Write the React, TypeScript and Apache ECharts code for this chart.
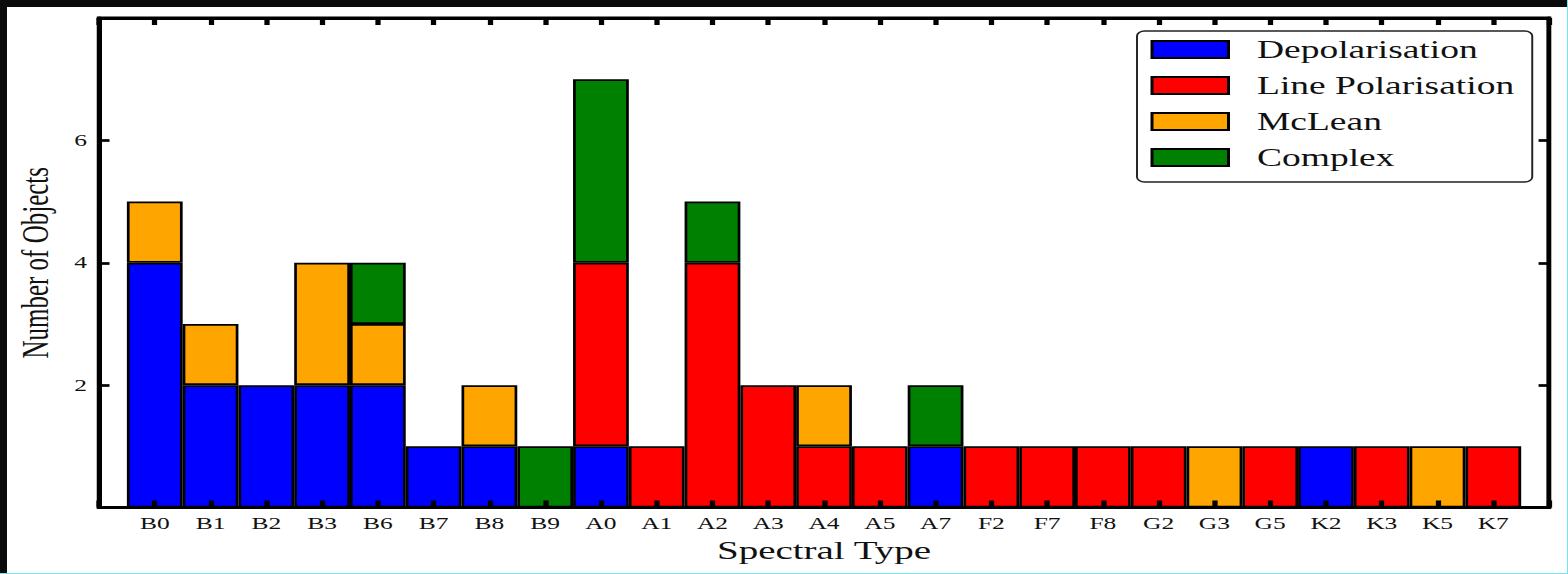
import React, { useEffect, useRef } from "react";
import * as echarts from "echarts";

const categories = ["B0","B1","B2","B3","B6","B7","B8","B9","A0","A1","A2","A3","A4","A5","A7","F2","F7","F8","G2","G3","G5","K2","K3","K5","K7"];
const depolarisation = [4,2,2,2,2,1,1,0,1,0,0,0,0,0,1,0,0,0,0,0,0,1,0,0,0];
const linePolarisation = [0,0,0,0,0,0,0,0,3,1,4,2,1,1,0,1,1,1,1,0,1,0,1,0,1];
const mclean = [1,1,0,2,1,0,1,0,0,0,0,0,1,0,0,0,0,0,0,1,0,0,0,1,0];
const complex = [0,0,0,0,1,0,0,1,3,0,1,0,0,0,1,0,0,0,0,0,0,0,0,0,0];
const seriesNames = ["Depolarisation", "Line Polarisation", "McLean", "Complex"];
const seriesColors = ["#0000ff", "#ff0000", "#ffa500", "#008000"];

const W = 1568;
const H = 574;
const S = 1.5;
const IW = W / S;

const FONT = "'Liberation Serif', 'DejaVu Serif', serif";

export default function App() {
  const ref = useRef<HTMLDivElement>(null);
  useEffect(() => {
    if (!ref.current) return;
    const chart = echarts.init(ref.current, null, { renderer: "svg", width: IW, height: H });
    const xData = ["", ...categories, ""];
    const pad = (a: number[]) => [null, ...a.map((v) => (v === 0 ? null : v)), null];
    const values = [depolarisation, linePolarisation, mclean, complex];
    const mkLine = () => ({ show: true, onZero: false, lineStyle: { color: "#000", width: 3 } });
    const xTick = () => ({ show: true, inside: true, length: 7, interval: 0, lineStyle: { color: "#000", width: 3.5 } });
    const yTick = () => ({ show: true, inside: true, length: 7, lineStyle: { color: "#000", width: 2.7 } });
    chart.setOption({
      animation: false,
      textStyle: { fontFamily: FONT },
      grid: {
        left: 66,
        right: IW - 1032.7,
        top: 18,
        bottom: H - 507.5,
        containLabel: false,
        show: true,
        borderColor: "#000",
        borderWidth: 3,
        backgroundColor: "transparent",
      },
      legend: {
        orient: "vertical",
        left: 758,
        top: 31,
        itemWidth: 51,
        itemHeight: 17,
        itemGap: 11,
        padding: [6, 12, 12, 9],
        backgroundColor: "#fff",
        borderColor: "#222",
        borderWidth: 1.3,
        borderRadius: 5,
        icon: "rect",
        data: seriesNames,
        textStyle: { fontSize: 25, color: "#111", fontFamily: FONT, padding: [0, 0, 0, 14] },
      },
      xAxis: [
        {
          type: "category",
          data: xData,
          boundaryGap: false,
          position: "bottom",
          z: 10,
          axisLine: mkLine(),
          axisTick: xTick(),
          axisLabel: { interval: 0, fontSize: 17, color: "#111", margin: 8, fontFamily: FONT },
          splitLine: { show: false },
          name: "Spectral Type",
          nameLocation: "middle",
          nameGap: 21,
          nameTextStyle: { fontSize: 26, color: "#111", fontFamily: FONT },
        },
        {
          type: "category",
          data: xData,
          boundaryGap: false,
          position: "top",
          z: 10,
          axisLine: mkLine(),
          axisTick: xTick(),
          axisLabel: { show: false },
          splitLine: { show: false },
        },
      ],
      yAxis: [
        {
          type: "value",
          min: 0,
          max: 8,
          interval: 2,
          position: "left",
          z: 10,
          axisLine: mkLine(),
          axisTick: yTick(),
          axisLabel: { showMinLabel: false, showMaxLabel: false, fontSize: 17, color: "#111", margin: 8, fontFamily: FONT },
          splitLine: { show: false },
          name: "Number of Objects",
          nameLocation: "middle",
          nameRotate: 90,
          nameGap: 30,
          nameTextStyle: { fontSize: 25, color: "#111", fontFamily: FONT },
        },
        {
          type: "value",
          min: 0,
          max: 8,
          interval: 2,
          position: "right",
          z: 10,
          axisLine: mkLine(),
          axisTick: yTick(),
          axisLabel: { show: false },
          splitLine: { show: false },
        },
      ],
      series: seriesNames.map((name, i) => ({
        name,
        type: "bar",
        stack: "total",
        xAxisIndex: 0,
        yAxisIndex: 0,
        barCategoryGap: "0%",
        data: pad(values[i]),
        itemStyle: { color: seriesColors[i], borderColor: "#000", borderWidth: 1.8 },
      })),
    });
    return () => chart.dispose();
  }, []);

  return (
    <div style={{ position: "absolute", left: 0, top: 0, width: W, height: H, background: "#fff", overflow: "hidden" }}>
      <div
        ref={ref}
        style={{
          position: "absolute",
          left: 0,
          top: 0,
          width: IW,
          height: H,
          transform: `scaleX(${S})`,
          transformOrigin: "0 0",
        }}
      />
      <div style={{ position: "absolute", left: 0, top: 0, width: W, height: 7, background: "#0b0b0b" }} />
      <div style={{ position: "absolute", left: 0, top: 0, width: 7, height: H, background: "#0b0b0b" }} />
      <div style={{ position: "absolute", left: W - 1, top: 0, width: 1, height: H, background: "#6ee8ee" }} />
      <div style={{ position: "absolute", left: 0, top: H - 1, width: W, height: 1, background: "#6ee8ee" }} />
    </div>
  );
}
